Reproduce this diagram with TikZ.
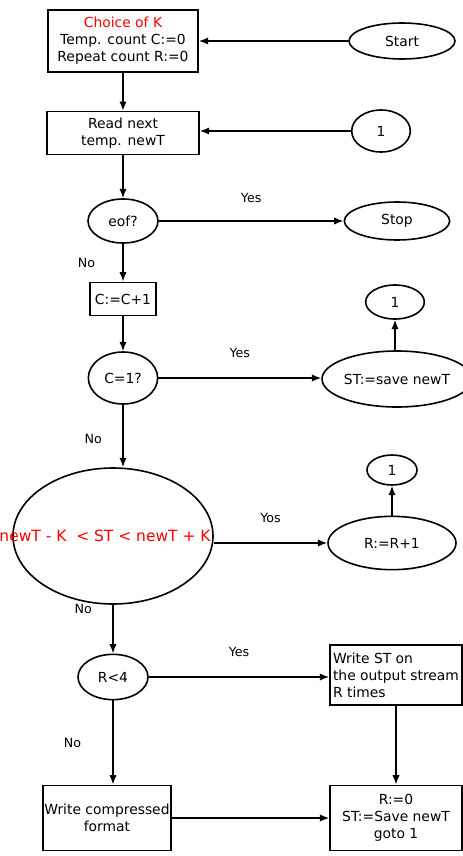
\documentclass[tikz,border=0pt]{standalone}
\usepackage{fontspec}
\setmainfont{DejaVu Sans}
\usetikzlibrary{shapes,arrows,arrows.meta,positioning,calc}

\tikzset{
    block/.style={rectangle, draw=black, text centered, align=center, inner sep=1pt},
    term/.style={ellipse, draw=black, text centered, align=center, inner sep=0pt},
    lbl/.style={font=\fontsize{9.5}{11}\selectfont},
}

\begin{document}
\begin{tikzpicture}[x=0.75pt, y=-0.75pt, >={Latex[length=7pt, width=5.5pt]}, line width=1.2pt, font=\fontsize{10.4}{12.8}\selectfont]
    \useasboundingbox (0,0) rectangle (462,856);
    \node (init) [block, minimum width=112.5pt, minimum height=46.5pt] at (123,41) {\textcolor{red}{Choice of K}\\Temp. count C:=0\\Repeat count R:=0};
    \node (start) [term, minimum width=79.5pt, minimum height=27pt] at (402,41) {Start};
    \node (read) [block, minimum width=114pt, minimum height=32pt] at (123,133) {Read next\\temp. newT};
    \node (goA) [term, minimum width=44pt, minimum height=31.5pt] at (381,131) {1};
    \node (eof) [term, minimum width=52.5pt, minimum height=33pt] at (123,221) {eof?};
    \node (stop) [term, minimum width=79pt, minimum height=28.5pt] at (397,221) {Stop};
    \node (inc) [block, minimum width=49.5pt, minimum height=25pt] at (123,299) {C:=C+1};
    \node (first) [term, minimum width=52pt, minimum height=39pt] at (123,378) {C=1?};
    \node (save) [term, minimum width=97pt, minimum height=42pt] at (397,379) {ST:=save newT};
    \node (goB) [term, minimum width=44pt, minimum height=25.5pt] at (395,302) {1};
    \node (range) [term, minimum width=150pt, minimum height=102pt] at (113,536) {\raisebox{-4.5pt}{\makebox[0pt]{\hspace*{-12pt}\fontsize{11.6}{13}\selectfont\textcolor{red}{newT - K\ \ < ST < newT + K}}}};
    \node (rinc) [term, minimum width=96pt, minimum height=40pt] at (392,543) {R:=R+1};
    \node (goC) [term, minimum width=37.5pt, minimum height=22.5pt] at (392,470) {1};
    \node (rlt) [term, minimum width=52.5pt, minimum height=34pt] at (113,677) {R<4};
    \node (wst) [block, align=left, minimum width=99pt, minimum height=45pt] at (396,675) {Write ST on\\the output stream\\R times};
    \node (comp) [block, minimum width=95pt, minimum height=49pt] at (107,818) {Write compressed\\format};
    \node (reset) [block, minimum width=99pt, minimum height=49pt] at (396,818) {R:=0\\ST:=Save newT\\goto 1};
    \draw [->] (start.west) -- (start.west -| init.east);
    \draw [->] (init.south) -- (read.north);
    \draw [->] (goA.west) -- (goA.west -| read.east);
    \draw [->] (read.south) -- (eof.north);
    \draw [->] (eof.east) -- node[lbl, above=10pt] {Yes} (eof.east -| stop.west);
    \draw [->] (eof.south) -- node[lbl, left=17pt] {No} (inc.north);
    \draw [->] (inc.south) -- (first.north);
    \draw [->] (first.east) -- node[lbl, above=11pt] {Yes} (first.east -| save.west);
    \draw [->] (save.north -| goB) -- (goB.south);
    \draw [->] (first.south) -- node[lbl, left=12pt, pos=0.55] {No} (first.south |- range.north);
    \draw [->] (rinc.west -| range.east) -- node[lbl, above=11pt] {Yos} (rinc.west);
    \draw [->] (rinc.north -| goC) -- (goC.south);
    \draw [->] (range.south) -- node[lbl, left=12pt, pos=0.08] {No} (rlt.north);
    \draw [->] (rlt.east) -- node[lbl, above=11pt] {Yes} (rlt.east -| wst.west);
    \draw [->] (wst.south) -- (reset.north);
    \draw [->] (rlt.south) -- node[lbl, left=20pt] {No} (rlt.south |- comp.north);
    \draw [->] (comp.east) -- (comp.east -| reset.west);
\end{tikzpicture}
\end{document}
